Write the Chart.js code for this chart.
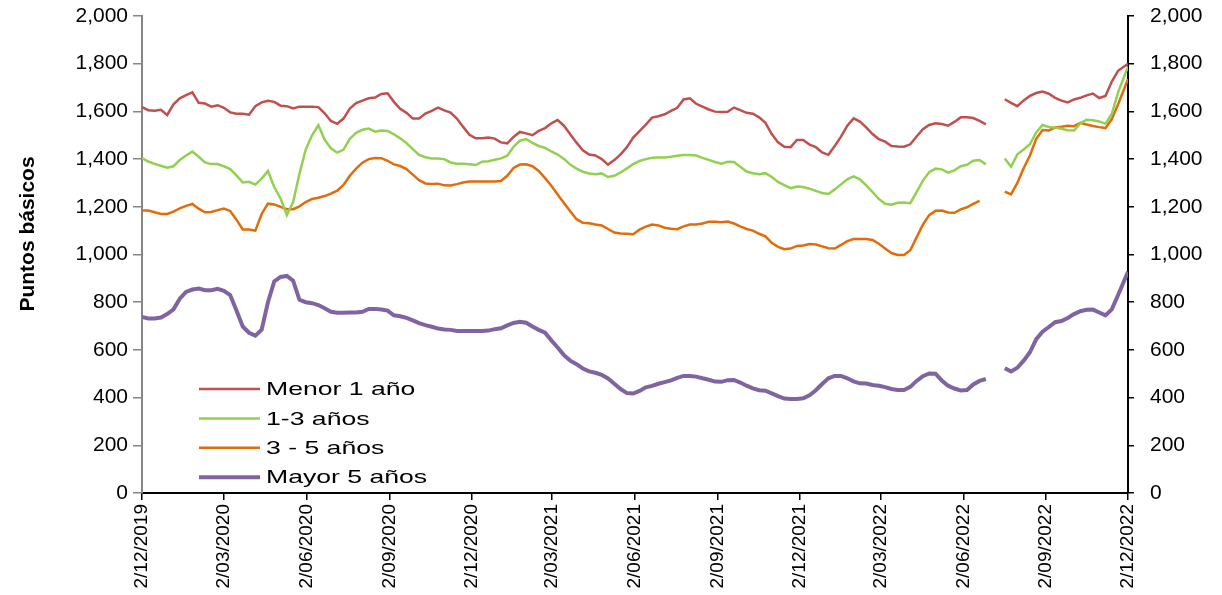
<!DOCTYPE html>
<html>
<head>
<meta charset="utf-8">
<script src="https://cdn.jsdelivr.net/npm/chart.js@4.4.1/dist/chart.umd.min.js"></script>
<style>
  html, body { margin: 0; padding: 0; background: #ffffff; }
  #wrap { position: relative; width: 1222px; height: 595px; }
</style>
</head>
<body>
<div id="wrap"><canvas id="c"></canvas></div>
<script>
// ---- Data ----
const START_DATE = '2019-12-02';
const END_DATE = '2022-12-02';
const TICK_DATES = ['2019-12-02','2020-03-02','2020-06-02','2020-09-02','2020-12-02','2021-03-02','2021-06-02','2021-09-02','2021-12-02','2022-03-02','2022-06-02','2022-09-02','2022-12-02'];
const TICK_LABELS = ['2/12/2019','2/03/2020','2/06/2020','2/09/2020','2/12/2020','2/03/2021','2/06/2021','2/09/2021','2/12/2021','2/03/2022','2/06/2022','2/09/2022','2/12/2022'];
const SERIES_NAMES = ['Menor 1 año','1-3 años','3 - 5 años','Mayor 5 años'];

const menor1 = [1618,1605,1603,1607,1585,1630,1655,1668,1680,1636,
1633,1620,1626,1615,1596,1590,1590,1586,1622,1638,
1645,1640,1624,1622,1612,1620,1620,1620,1618,1592,
1560,1548,1570,1612,1635,1645,1655,1658,1673,1676,
1640,1611,1594,1570,1570,1591,1602,1616,1604,1595,
1570,1535,1502,1487,1487,1490,1486,1470,1466,1493,
1514,1508,1500,1518,1530,1550,1564,1540,1504,1469,
1437,1419,1415,1400,1377,1396,1420,1450,1490,1517,
1545,1574,1580,1588,1602,1615,1650,1655,1632,1620,
1608,1599,1597,1598,1616,1605,1594,1590,1575,1552,
1505,1470,1452,1450,1480,1480,1461,1450,1428,1418,
1455,1494,1540,1571,1557,1533,1505,1484,1473,1455,
1453,1452,1462,1495,1525,1543,1550,1547,1540,1556,
1575,1575,1572,1560,1546,null,null,1651,1636,1622,
1646,1665,1677,1683,1674,1657,1645,1638,1650,1657,
1667,1675,1656,1665,1725,1770,1800];

const anos1a3 = [1404,1390,1380,1372,1364,1370,1396,1415,1432,1410,
1386,1379,1379,1370,1358,1332,1302,1305,1293,1318,
1350,1283,1235,1165,1220,1338,1440,1500,1542,1482,
1445,1427,1440,1485,1510,1523,1528,1515,1520,1518,
1504,1487,1467,1442,1418,1408,1403,1403,1400,1386,
1381,1380,1378,1375,1389,1391,1397,1403,1414,1452,
1477,1484,1468,1455,1447,1432,1419,1401,1377,1360,
1347,1340,1337,1340,1325,1330,1344,1361,1379,1392,
1400,1406,1407,1407,1410,1414,1417,1417,1415,1405,
1397,1388,1381,1389,1388,1368,1348,1341,1337,1341,
1325,1304,1291,1278,1285,1283,1276,1267,1258,1254,
1273,1294,1315,1328,1315,1290,1262,1233,1213,1209,
1217,1218,1215,1262,1310,1345,1360,1357,1343,1353,
1370,1376,1393,1396,1378,null,null,1403,1368,1420,
1440,1462,1512,1543,1535,1532,1527,1521,1520,1550,
1565,1563,1558,1548,1590,1680,1788];

const anos3a5 = [1184,1184,1177,1170,1170,1180,1193,1204,1212,1192,
1177,1178,1186,1193,1182,1146,1105,1105,1100,1170,
1213,1210,1200,1190,1190,1202,1220,1233,1238,1245,
1255,1268,1292,1330,1360,1385,1400,1405,1404,1393,
1378,1371,1358,1335,1312,1298,1296,1297,1290,1289,
1295,1302,1306,1306,1306,1306,1306,1308,1330,1363,
1377,1378,1370,1350,1320,1288,1252,1216,1181,1148,
1133,1131,1126,1122,1107,1092,1088,1087,1085,1104,
1117,1126,1122,1112,1108,1106,1118,1126,1126,1130,
1137,1137,1135,1138,1130,1118,1107,1100,1087,1076,
1049,1032,1022,1025,1036,1038,1044,1042,1034,1026,
1025,1040,1056,1065,1065,1065,1061,1045,1025,1006,
998,998,1018,1072,1125,1165,1183,1184,1176,1175,
1189,1198,1212,1225,null,null,null,1264,1252,1300,
1362,1415,1485,1522,1520,1533,1536,1540,1538,1552,
1545,1539,1534,1530,1568,1630,1735];

const mayor5 = [738,732,732,736,750,770,815,843,853,857,
850,850,856,848,830,765,698,672,660,685,
800,887,906,910,890,810,800,796,788,775,
760,756,756,757,757,760,772,772,769,765,
745,741,734,724,712,704,697,690,686,684,
679,679,679,679,679,681,687,691,703,713,
718,714,698,684,672,640,610,578,555,540,
522,510,504,495,480,458,436,419,417,428,
443,449,458,465,472,483,491,491,488,481,
475,467,466,473,474,463,450,439,431,429,
418,406,396,394,394,397,410,431,457,481,
491,491,481,468,460,459,453,450,444,436,
432,432,445,470,490,501,500,472,450,438,
430,432,455,470,478,null,null,523,510,525,
555,590,645,676,696,716,721,734,750,762,
768,769,757,745,770,830,928];

const Y_MIN = 0, Y_MAX = 2000, Y_STEP = 200;

// ---- Helpers: dates -> day offsets ----
const DAY = 86400000;
function dayOf(s) { const p = s.split('-').map(Number); return Date.UTC(p[0], p[1]-1, p[2]); }
const T0 = dayOf(START_DATE);
const T_END = Math.round((dayOf(END_DATE) - T0) / DAY);
const TICK_DAYS = TICK_DATES.map(d => Math.round((dayOf(d) - T0) / DAY));
// weekly observation dates; the final observation falls on END_DATE
const OBS_DAYS = menor1.map((_, i) => i === menor1.length - 1 ? T_END : i * 7);
const toPts = arr => arr.map((v, i) => ({ x: OBS_DAYS[i], y: v }));

const FONT = "'Liberation Sans', Arial, sans-serif";
const COLORS = ['#C0504D', '#92D050', '#E36C09', '#8064A2'];
const WIDTHS = [2.5, 2.5, 2.5, 4];
const SERIES = [menor1, anos1a3, anos3a5, mayor5];

const datasets = SERIES.map((arr, i) => ({
  label: SERIES_NAMES[i],
  data: toPts(arr),
  borderColor: COLORS[i],
  backgroundColor: COLORS[i],
  borderWidth: WIDTHS[i],
  pointRadius: 0,
  pointHoverRadius: 0,
  tension: 0,
  spanGaps: false,
  fill: false,
  yAxisID: 'y'
}));

const fmt = v => Number(v).toLocaleString('en-US');

// Legend drawn inside the plot, plus rotated axis title
const overlay = {
  id: 'overlay',
  afterDraw(chart) {
    const ctx = chart.ctx;
    const ca = chart.chartArea;
    ctx.save();
    // axis title
    ctx.fillStyle = '#000';
    ctx.font = 'bold 21px ' + FONT;
    ctx.textAlign = 'center';
    ctx.textBaseline = 'middle';
    ctx.translate(28, 234);
    ctx.rotate(-Math.PI / 2);
    ctx.fillText('Puntos básicos', 0, 0);
    ctx.restore();

    // legend
    ctx.save();
    const x0 = ca.left + 57, x1 = ca.left + 118, tx = ca.left + 124;
    const y0 = 389, dy = 29.4;
    chart.data.datasets.forEach((ds, i) => {
      const y = y0 + i * dy;
      ctx.strokeStyle = ds.borderColor;
      ctx.lineWidth = i === 3 ? 4 : 2.5;
      ctx.beginPath();
      ctx.moveTo(x0, y);
      ctx.lineTo(x1, y);
      ctx.stroke();
      ctx.save();
      ctx.translate(tx, y);
      ctx.scale(1.4, 1);
      ctx.fillStyle = '#000';
      ctx.font = '19px ' + FONT;
      ctx.textAlign = 'left';
      ctx.textBaseline = 'middle';
      ctx.fillText(ds.label, 0, 1);
      ctx.restore();
    });
    ctx.restore();
  }
};

const fitY = w => s => { s.width = w; s.paddingTop = 8; s.paddingBottom = 8; };

new Chart(document.getElementById('c'), {
  type: 'line',
  data: { datasets },
  plugins: [overlay],
  options: {
    responsive: true,
    maintainAspectRatio: false,
    animation: false,
    layout: { padding: { top: 16, left: 0, right: 0, bottom: 0 } },
    plugins: { legend: { display: false }, tooltip: { enabled: false } },
    scales: {
      x: {
        type: 'linear',
        min: 0,
        max: T_END,
        afterBuildTicks: s => { s.ticks = TICK_DAYS.map(v => ({ value: v })); },
        afterFit: s => { s.height = 102; },
        grid: { display: true, drawOnChartArea: false, drawTicks: true, tickLength: 7, color: '#000', lineWidth: 1.5 },
        border: { display: true, color: '#000', width: 2 },
        ticks: {
          autoSkip: false,
          minRotation: 90,
          maxRotation: 90,
          padding: 4,
          color: '#000',
          font: { family: FONT, size: 19 },
          callback: v => { const k = TICK_DAYS.indexOf(v); return k >= 0 ? TICK_LABELS[k] : ''; }
        }
      },
      y: {
        position: 'left',
        min: Y_MIN, max: Y_MAX,
        afterFit: fitY(142),
        grid: { display: true, drawOnChartArea: false, drawTicks: true, tickLength: 9, color: '#868686', lineWidth: 1.5 },
        border: { display: true, color: '#868686', width: 2 },
        ticks: { stepSize: Y_STEP, padding: 5, color: '#000', font: { family: FONT, size: 21 }, callback: fmt }
      },
      y2: {
        position: 'right',
        min: Y_MIN, max: Y_MAX,
        afterFit: fitY(94),
        grid: { display: true, drawOnChartArea: false, drawTicks: true, tickLength: 6, color: '#000', lineWidth: 1.5 },
        border: { display: true, color: '#000', width: 2 },
        ticks: { stepSize: Y_STEP, padding: 16, color: '#000', font: { family: FONT, size: 21 }, callback: fmt }
      }
    }
  }
});
</script>
</body>
</html>
